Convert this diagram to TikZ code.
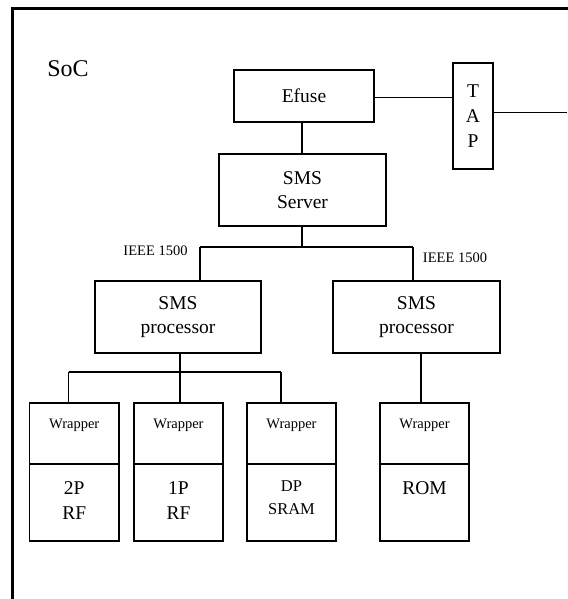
\documentclass[tikz,border=0pt]{standalone}
\usepackage{fontspec}
\setmainfont{Liberation Serif}
\begin{document}
\begin{tikzpicture}[x=1pt,y=-1pt,line width=1.9pt,
  box/.style={draw,rectangle,inner sep=0pt,align=center,font=\fontsize{19.5}{24}\selectfont},
  wbox/.style={draw,rectangle,inner sep=0pt,minimum width=89.5pt},
  big/.style={font=\fontsize{19.5}{24}\selectfont,align=center,inner sep=0pt},
  small/.style={font=\fontsize{14.5}{17}\selectfont,inner sep=0pt},
  wire/.style={line width=1.8pt}]
\useasboundingbox (0,0) rectangle (567,599);
\draw[line width=2.4pt] (12.5,640) -- (12.5,8.5) -- (620,8.5);
\node[font=\fontsize{24}{28}\selectfont,anchor=base,inner sep=0pt] (soc) at (68,77) {SoC};
% boxes
\node[box,minimum width=140pt,minimum height=52pt] (efuse) at (304,96) {Efuse};
\node[box,minimum width=40pt,minimum height=106pt,font=\fontsize{19.5}{25}\selectfont] (tap) at (473,116) {T\\A\\P};
\node[box,minimum width=167pt,minimum height=72pt] (server) at (302.5,190) {SMS\\Server};
\node[box,minimum width=166pt,minimum height=72pt] (procL) at (178,317) {SMS\\processor};
\node[box,minimum width=167pt,minimum height=72pt] (procR) at (416.5,317) {SMS\\processor};
% wrappers
\foreach \n/\x in {1/74.25,2/178.5,3/291.5,4/424.5}{
  \node[wbox,minimum height=61pt] (w\n) at (\x,433.5) {};
  \node[wbox,minimum height=77pt] (m\n) at (\x,502.5) {};
  \node[small,anchor=base] (wt\n) at (\x,428.5) {Wrapper};
}
\node[big,anchor=base] (t1a) at (74.25,494) {2P};
\node[big,anchor=base] (t1b) at (74.25,519) {RF};
\node[big,anchor=base] (t2a) at (178.5,494) {1P};
\node[big,anchor=base] (t2b) at (178.5,519) {RF};
\node[font=\fontsize{16.5}{20}\selectfont,inner sep=0pt,anchor=base] (t3a) at (291.5,491.5) {DP};
\node[font=\fontsize{16.5}{20}\selectfont,inner sep=0pt,anchor=base] (t3b) at (291.5,514) {SRAM};
\node[big,anchor=base] (t4a) at (424.5,494) {ROM};
% labels
\node[small] (ieeeL) at (155.5,251) {IEEE 1500};
\node[small] (ieeeR) at (455,258) {IEEE 1500};
% connectors
\coordinate (out) at (567,112.5);
\coordinate (busL) at (200,247);
\coordinate (busR) at (413,247);
\coordinate (bL) at (68.5,372);
\coordinate (bM) at (180,372);
\coordinate (bR) at (281,372);
\coordinate (pR) at (421,353);
\draw[wire] (efuse.east |- 0,97.5) -- (tap.west |- 0,97.5);
\draw[wire] (tap.east |- out) -- (out);
\draw[wire] (server.north -| 302,0) -- (efuse.south -| 302,0);
\draw[wire] (server.south -| 302,0) -- (302,247);
\draw[wire] (busL) -- (busR);
\draw[wire] (busL) -- (busL |- procL.north);
\draw[wire] (busR) -- (busR |- procR.north);
\draw[wire] (procL.south -| bM) -- (bM);
\draw[wire] (bL) -- (bR);
\draw[wire] (bL) -- (bL |- w1.north);
\draw[wire] (bM) -- (bM |- w2.north);
\draw[wire] (bR) -- (bR |- w3.north);
\draw[wire] (procR.south -| pR) -- (pR |- w4.north);
\end{tikzpicture}
\end{document}
